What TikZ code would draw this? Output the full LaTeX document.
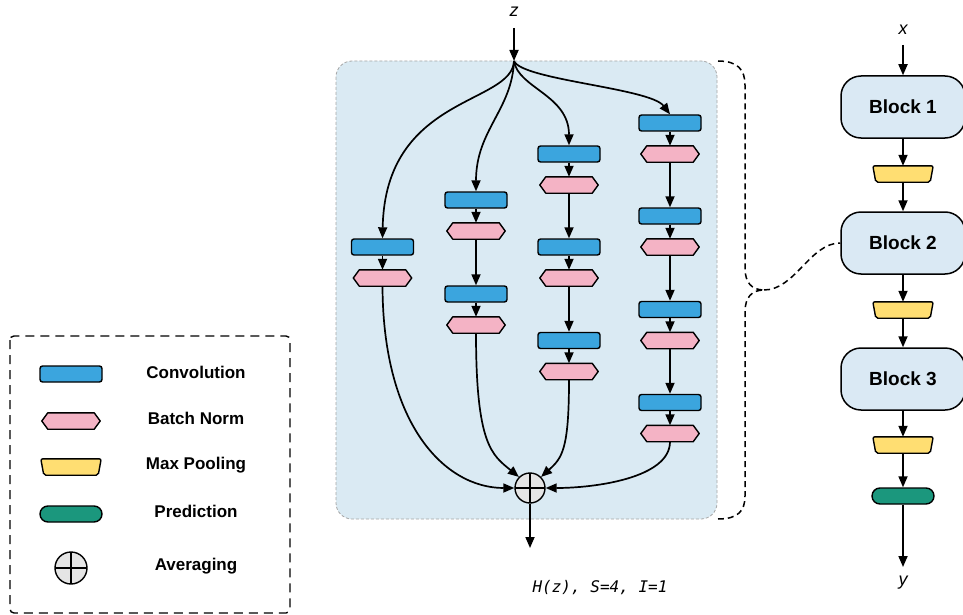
\documentclass[tikz,border=0pt]{standalone}
\usepackage{fontspec}
\setmainfont{Liberation Sans}
\newfontfamily\monofam{DejaVu Sans Mono}
\usetikzlibrary{arrows.meta,shapes.misc}
\definecolor{convblue}{HTML}{3BA5DE}
\definecolor{bnpink}{HTML}{F4B3C5}
\definecolor{poolyellow}{HTML}{FFDE72}
\definecolor{predgreen}{HTML}{1B977D}
\definecolor{panelblue}{HTML}{DAEAF3}
\definecolor{blockblue}{HTML}{DAE9F4}
\definecolor{avggray}{HTML}{E5E5E5}
\tikzset{
  conv/.style={draw, line width=1.4pt, fill=convblue, rounded corners=2.5pt, minimum width=62pt, minimum height=16pt, inner sep=0pt},
  bn/.style={rectangle, minimum width=58pt, minimum height=16pt, inner sep=0pt},
  bnshape/.style={draw, line width=1.4pt, fill=bnpink, line join=round},
  pool/.style={rectangle, minimum width=60pt, minimum height=16pt, inner sep=0pt},
  poolshape/.style={draw, line width=1.4pt, fill=poolyellow, rounded corners=2pt},
  pred/.style={rounded rectangle, draw, line width=1.4pt, fill=predgreen, minimum width=62pt, minimum height=16pt, inner sep=0pt},
  avg/.style={circle, draw, line width=1.4pt, fill=avggray, minimum size=30pt, inner sep=0pt,
    path picture={\draw[line width=1.3pt] (path picture bounding box.north) -- (path picture bounding box.south)
      (path picture bounding box.west) -- (path picture bounding box.east);}},
  block/.style={draw, line width=1.5pt, fill=blockblue, rounded corners=20pt, minimum width=124pt, minimum height=62pt, font=\fontsize{19}{22}\selectfont\bfseries},
  legtext/.style={font=\fontsize{17}{20}\selectfont\bfseries},
  varlabel/.style={font=\fontsize{18}{20}\selectfont\itshape},
  arr/.style={line width=1.7pt, -{Triangle[length=11pt,width=9pt]}},
  brace/.style={line width=1.5pt, dash pattern=on 6pt off 4pt},
  panel/.style={fill=panelblue, draw=gray!70, line width=0.8pt, dash pattern=on 3pt off 2pt, rounded corners=16pt},
  legendbox/.style={draw, line width=1.4pt, dash pattern=on 9pt off 6pt, rounded corners=4pt}
}
\newcommand{\drawpool}[1]{\draw[poolshape] (#1.north west) -- (#1.north east) -- ([xshift=-3pt]#1.south east) -- ([xshift=3pt]#1.south west) -- cycle;}
\newcommand{\drawbn}[1]{\draw[bnshape] (#1.west) -- ([xshift=6pt]#1.north west) -- ([xshift=-6pt]#1.north east) -- (#1.east) -- ([xshift=-6pt]#1.south east) -- ([xshift=6pt]#1.south west) -- cycle;}
\begin{document}
\begin{tikzpicture}[x=1pt,y=-1pt]
\useasboundingbox (0,0) rectangle (963,615);
% panel
\draw[panel] (336,61) rectangle (717,519);
\coordinate (ztop) at (514,61);
\node[varlabel] (zlab) at (514,12) {z};
\coordinate (zstart) at (514,28);
\draw[arr] (zstart) -- (ztop);
% column 1
\node[conv] (c11) at (382.5,247) {};
\node[bn] (b11) at (382.5,278) {};
% column 2
\node[conv] (c21) at (476,200) {};
\node[bn] (b21) at (476,231) {};
\node[conv] (c22) at (476,294) {};
\node[bn] (b22) at (476,325) {};
% column 3
\node[conv] (c31) at (569,154) {};
\node[bn] (b31) at (569,185) {};
\node[conv] (c32) at (569,247) {};
\node[bn] (b32) at (569,278) {};
\node[conv] (c33) at (569,340.5) {};
\node[bn] (b33) at (569,371.5) {};
% column 4
\node[conv] (c41) at (670,123) {};
\node[bn] (b41) at (670,154) {};
\node[conv] (c42) at (670,216) {};
\node[bn] (b42) at (670,247) {};
\node[conv] (c43) at (670,309.5) {};
\node[bn] (b43) at (670,340.5) {};
\node[conv] (c44) at (670,402.5) {};
\node[bn] (b44) at (670,433.5) {};
\foreach \n in {b11,b21,b22,b31,b32,b33,b41,b42,b43,b44} {\drawbn{\n}}
% averaging
\node[avg] (avg) at (530,488) {};
% vertical arrows
\foreach \a/\b in {c11/b11,c21/b21,b21/c22,c22/b22,c31/b31,b31/c32,c32/b32,b32/c33,c33/b33,c41/b41,b41/c42,c42/b42,b42/c43,c43/b43,b43/c44,c44/b44}
  \draw[arr] (\a) -- (\b);
% fan out
\draw[arr] (ztop) .. controls (512,105) and (385,95) .. (c11.north);
\draw[arr] (ztop) .. controls (512,110) and (476,130) .. (c21.north);
\draw[arr] (ztop) .. controls (518,88) and (569,95) .. (c31.north);
\draw[arr] (ztop) .. controls (522,80) and (650,88) .. (c41.north);
% fan in
\draw[arr] (b11.south) .. controls (383,425) and (445,488) .. (avg.west);
\draw[arr] (b22.south) .. controls (476,445) and (492,455) .. (avg.north west);
\draw[arr] (b33.south) .. controls (569,450) and (562,458) .. (avg.north east);
\draw[arr] (b44.south) .. controls (670,478) and (595,488) .. (avg.east);
\coordinate (hout) at (530,548);
\draw[arr] (avg.south) -- (hout);
\node[font=\fontsize{16}{18}\selectfont\monofam\itshape] (hlab) at (600,588) {H(z), S=4, I=1};
% right column
\node[varlabel] (xlab) at (903,30) {x};
\coordinate (xstart) at (903,45);
\node[block] (bl1) at (903,107) {Block 1};
\node[pool] (p1) at (903,174) {};
\node[block] (bl2) at (903,243) {Block 2};
\node[pool] (p2) at (903,310) {};
\node[block] (bl3) at (903,379) {Block 3};
\node[pool] (p3) at (903,445) {};
\drawpool{p1}
\drawpool{p2}
\drawpool{p3}
\node[pred] (pr) at (903,496) {};
\coordinate (yend) at (903,567);
\node[varlabel] (ylab) at (903,583) {y};
\draw[arr] (xstart) -- (bl1);
\draw[arr] (bl1) -- (p1);
\draw[arr] (p1) -- (bl2);
\draw[arr] (bl2) -- (p2);
\draw[arr] (p2) -- (bl3);
\draw[arr] (bl3) -- (p3);
\draw[arr] (p3) -- (pr);
\draw[arr] (pr) -- (yend);
% brace
\coordinate (btop) at (718,61);
\coordinate (btip) at (764,290);
\coordinate (bbot) at (718,519);
\draw[brace] (btop) .. controls (738,61) and (745,70) .. (745,85) -- (745,268) .. controls (745,283) and (752,290) .. (btip)
  .. controls (752,290) and (745,297) .. (745,312) -- (745,496) .. controls (745,511) and (738,519) .. (bbot);
\draw[brace] (btip) .. controls (795,290) and (810,243) .. (bl2.west);
% legend
\draw[legendbox] (10,336) rectangle (290,613);
\node[conv] (lc) at (71,374) {};
\node[legtext] (lct) at (196,372) {Convolution};
\node[bn] (lb) at (71,421) {};
\drawbn{lb}
\node[legtext] (lbt) at (196,418) {Batch Norm};
\node[pool] (lp) at (71,467) {};
\drawpool{lp}
\node[legtext] (lpt) at (196,465) {Max Pooling};
\node[pred] (lpr) at (71,514) {};
\node[legtext] (lprt) at (196,511) {Prediction};
\node[avg, minimum size=32pt] (la) at (71,568) {};
\node[legtext] (lat) at (196,566) {Averaging};
\end{tikzpicture}
\end{document}
